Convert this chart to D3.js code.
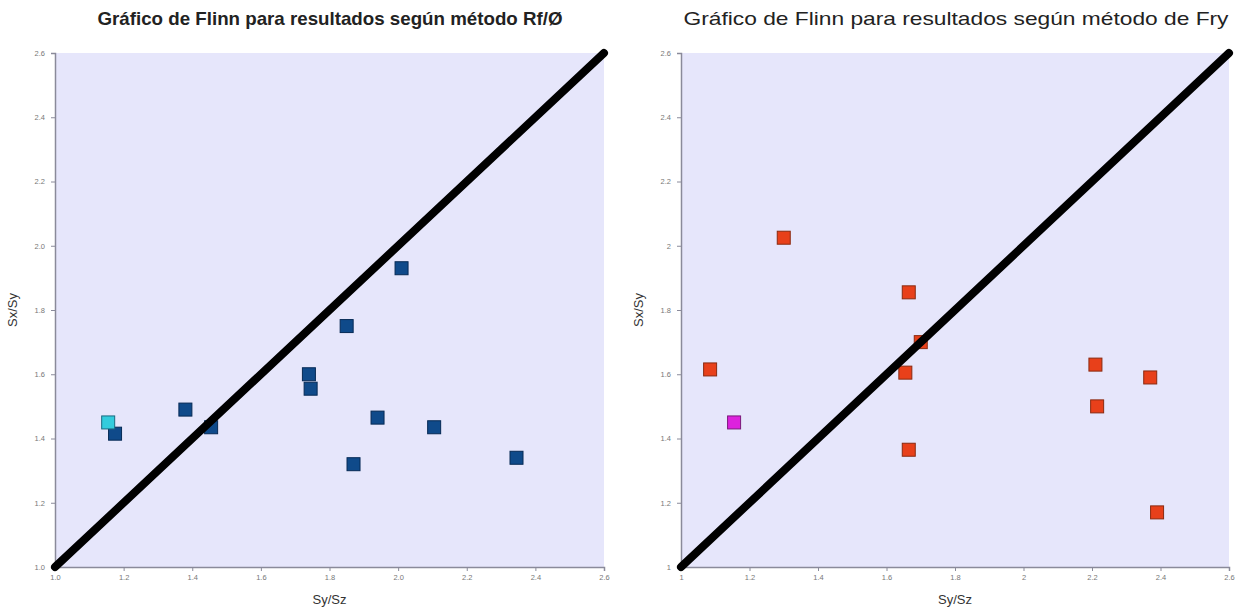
<!DOCTYPE html>
<html>
<head>
<meta charset="utf-8">
<script src="https://cdn.jsdelivr.net/npm/d3@7"></script>
<style>
  body { margin: 0; background: #fff; }
  svg { display: block; font-family: Arial, "Liberation Sans", sans-serif; }
</style>
</head>
<body>
<svg id="chart" width="1242" height="610"></svg>
<script>
// data
const titleRf = "Gráfico de Flinn para resultados según método Rf/Ø";
const titleFry = "Gráfico de Flinn para resultados según método de Fry";
const xLabel = "Sy/Sz";
const yLabel = "Sx/Sy";
const ticks = [1.0, 1.2, 1.4, 1.6, 1.8, 2.0, 2.2, 2.4, 2.6];

// Rf/Ø method: Sy/Sz, Sx/Sy
const rfX = [1.175, 1.38, 1.455, 1.74, 1.745, 1.85, 2.01, 1.94, 1.87, 2.105, 2.345];
const rfY = [1.415, 1.49, 1.435, 1.60, 1.555, 1.75, 1.93, 1.465, 1.32, 1.435, 1.34];
const rfRefX = [1.155];
const rfRefY = [1.45];

// Fry method
const fryX = [1.085, 1.30, 1.665, 1.655, 1.70, 1.665, 2.21, 2.215, 2.37, 2.39];
const fryY = [1.615, 2.025, 1.855, 1.605, 1.70, 1.365, 1.63, 1.50, 1.59, 1.17];
const fryRefX = [1.155];
const fryRefY = [1.45];

const svg = d3.select('#chart');

function panel(opt) {
  const x = d3.scaleLinear().domain([1, 2.6]).range([opt.left, opt.right]);
  const y = d3.scaleLinear().domain([1, 2.6]).range([567, 53]);

  const g = svg.append('g');

  g.append('rect')
    .attr('x', opt.left).attr('y', 53)
    .attr('width', opt.right - opt.left).attr('height', 567 - 53)
    .attr('fill', '#e6e6fb');

  const fmt = opt.fmt;
  const xAxis = g.append('g')
    .attr('transform', `translate(0,567)`)
    .call(d3.axisBottom(x).tickValues(ticks).tickFormat(fmt).tickSize(4).tickPadding(4));
  const yAxis = g.append('g')
    .attr('transform', `translate(${opt.left},0)`)
    .call(d3.axisLeft(y).tickValues(ticks).tickFormat(fmt).tickSize(4).tickPadding(6));

  [xAxis, yAxis].forEach(a => {
    a.select('.domain').attr('stroke', '#8a8a9a').attr('stroke-width', 1.5);
    a.selectAll('.tick line').attr('stroke', '#8a8a9a');
    a.selectAll('.tick text').attr('fill', '#777').attr('font-size', 7.5);
  });

  // markers
  const pts = opt.xs.map((v, i) => ({x: v, y: opt.ys[i], c: opt.color, s: opt.stroke}))
    .concat(opt.refX.map((v, i) => ({x: v, y: opt.refY[i], c: opt.refColor, s: opt.refStroke})));
  const size = 13;
  g.selectAll('rect.pt')
    .data(pts)
    .enter().append('rect')
      .attr('class', 'pt')
      .attr('x', d => x(d.x) - size / 2)
      .attr('y', d => y(d.y) - size / 2)
      .attr('width', size).attr('height', size)
      .attr('fill', d => d.c)
      .attr('stroke', d => d.s)
      .attr('stroke-width', 1);

  // 1:1 line
  const line = d3.line().x(d => x(d)).y(d => y(d));
  g.append('path')
    .datum([1, 2.6])
    .attr('fill', 'none')
    .attr('stroke', '#000')
    .attr('stroke-width', 8)
    .attr('stroke-linecap', 'round')
    .attr('d', line);

  // titles
  g.append('text')
    .attr('x', opt.titleX).attr('y', 25)
    .attr('text-anchor', 'middle')
    .attr('font-size', 18.5)
    .attr('font-weight', opt.bold ? 'bold' : 'normal')
    .attr('fill', '#222')
    .attr('textLength', opt.titleW)
    .attr('lengthAdjust', 'spacingAndGlyphs')
    .text(opt.title);

  g.append('text')
    .attr('x', (opt.left + opt.right) / 2).attr('y', 604)
    .attr('text-anchor', 'middle')
    .attr('font-size', 13)
    .attr('fill', '#333')
    .text(xLabel);

  g.append('text')
    .attr('transform', `translate(${opt.left - 38},310) rotate(-90)`)
    .attr('text-anchor', 'middle')
    .attr('font-size', 13)
    .attr('fill', '#333')
    .text(yLabel);
}

panel({
  left: 55, right: 604, title: titleRf, titleX: 330, titleW: 465, bold: true,
  fmt: d3.format('.1f'),
  xs: rfX, ys: rfY, color: '#0f4a8a', stroke: '#062a55',
  refX: rfRefX, refY: rfRefY, refColor: '#33ccdd', refStroke: '#1a6a80'
});

panel({
  left: 681, right: 1229, title: titleFry, titleX: 956, titleW: 545, bold: false,
  fmt: d => d3.format('~g')(d),
  xs: fryX, ys: fryY, color: '#e8401a', stroke: '#8a2a10',
  refX: fryRefX, refY: fryRefY, refColor: '#dd22dd', refStroke: '#7a1a7a'
});
</script>
</body>
</html>
